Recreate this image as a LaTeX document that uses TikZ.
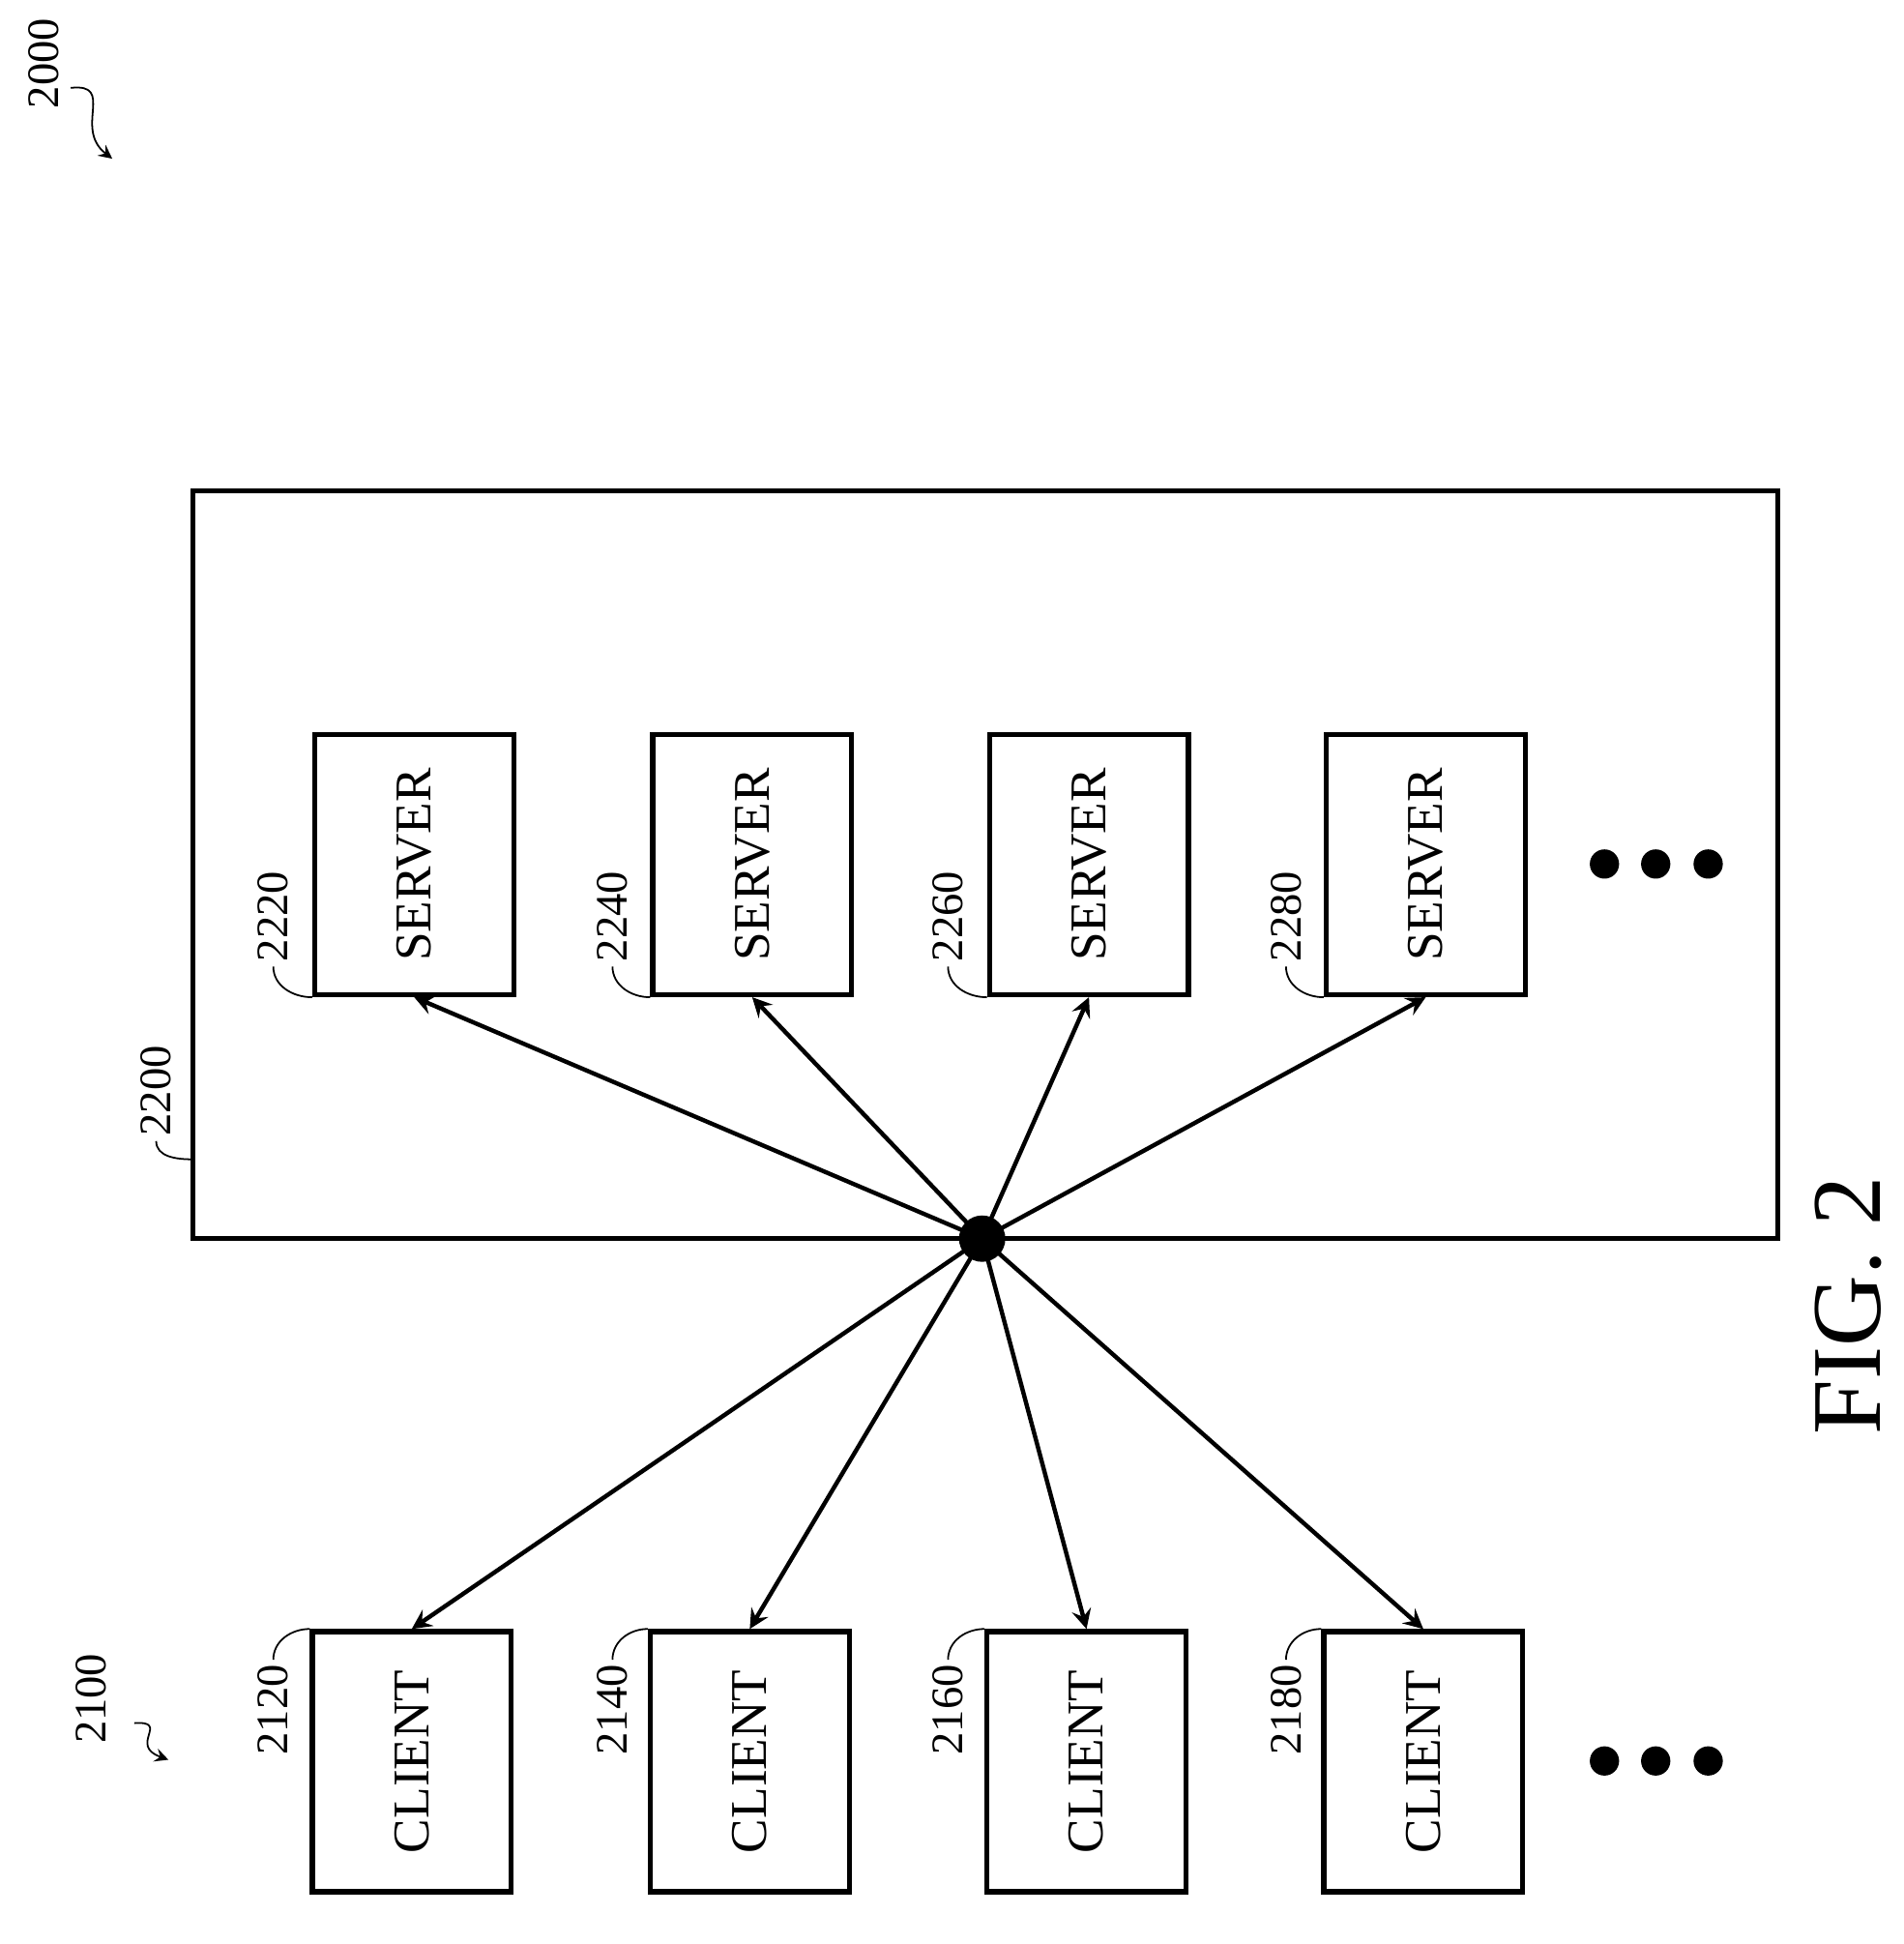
\documentclass[tikz,border=0pt]{standalone}
\usepackage{fontspec}
\setmainfont{Liberation Serif}
\usetikzlibrary{arrows}

\begin{document}
\begin{tikzpicture} [x=0.01cm, y=-0.01cm,
		% define styles
		boxstyle/.style={
			% The shape:
			rectangle,
			% The size:
			minimum width=1.63cm,
			minimum height=2.13cm,
			% The border:
			line width=1.2pt,
			draw=black,
			% Font
			font=\fontsize{12}{14}\selectfont
		},
		refstyle/.style={
			rotate=90,
			inner sep=1pt,
			font=\fontsize{10.5}{12}\selectfont
		},
		leader/.style={
			thin,
			black
		},
		arrow/.style={
			<->,
			% Thickness
			line width=1pt,
			>=stealth,
			black
		}]
		% end of style definition
		\useasboundingbox (0,0) rectangle (1560,1593);

		% outer frame
		\draw [line width=1.2pt] (158,402) rectangle (1457,1015);
		\coordinate (frameCorner) at (158,950);

		% draw nodes
		\node (iServerA) [boxstyle] at (339.5,708.5) {\rotatebox{90}{SERVER}};
		\node (iServerB) [boxstyle] at (616.5,708.5) {\rotatebox{90}{SERVER}};
		\node (iServerC) [boxstyle] at (892.5,708.5) {\rotatebox{90}{SERVER}};
		\node (iServerD) [boxstyle] at (1168.5,708.5) {\rotatebox{90}{SERVER}};

		\node (iClientA) [boxstyle] at (337.5,1443.5) {\rotatebox{90}{CLIENT}};
		\node (iClientB) [boxstyle] at (614.5,1443.5) {\rotatebox{90}{CLIENT}};
		\node (iClientC) [boxstyle] at (890.5,1443.5) {\rotatebox{90}{CLIENT}};
		\node (iClientD) [boxstyle] at (1166.5,1443.5) {\rotatebox{90}{CLIENT}};

		\node (iHub) [circle, fill=black, inner sep=0pt, minimum size=0.38cm] at (805,1015) {};

		% ellipses
		\foreach \x in {1315,1357,1400} {
			\fill (\x,708) circle (12);
			\fill (\x,1443) circle (12);
		}

		% reference numerals
		\node (iRefServerA) [refstyle, anchor=west] at (224,792) {2220};
		\node (iRefServerB) [refstyle, anchor=west] at (502,792) {2240};
		\node (iRefServerC) [refstyle, anchor=west] at (777,792) {2260};
		\node (iRefServerD) [refstyle, anchor=west] at (1054,792) {2280};
		\node (iRefClientA) [refstyle, anchor=east] at (224,1360) {2120};
		\node (iRefClientB) [refstyle, anchor=east] at (502,1360) {2140};
		\node (iRefClientC) [refstyle, anchor=east] at (777,1360) {2160};
		\node (iRefClientD) [refstyle, anchor=east] at (1054,1360) {2180};
		\node (iRefFrame) [refstyle, anchor=west] at (128,935) {2200};
		\node (iRefSystem) [refstyle] at (36,52) {2000};
		\node (iRefClients) [refstyle] at (75,1392) {2100};
		\node (iFig) [rotate=90, font=\fontsize{23}{26}\selectfont] at (1515,1070) {FIG. 2};

		% leaders
		\draw [leader] (iRefServerA.west) to[out=-90,in=180] (iServerA.south west);
		\draw [leader] (iRefServerB.west) to[out=-90,in=180] (iServerB.south west);
		\draw [leader] (iRefServerC.west) to[out=-90,in=180] (iServerC.south west);
		\draw [leader] (iRefServerD.west) to[out=-90,in=180] (iServerD.south west);
		\draw [leader] (iRefClientA.east) to[out=90,in=180] (iClientA.north west);
		\draw [leader] (iRefClientB.east) to[out=90,in=180] (iClientB.north west);
		\draw [leader] (iRefClientC.east) to[out=90,in=180] (iClientC.north west);
		\draw [leader] (iRefClientD.east) to[out=90,in=180] (iClientD.north west);
		\draw [leader] (iRefFrame.west) to[out=-90,in=180] (frameCorner);
		\coordinate (systemTail) at (58,72);
		\coordinate (systemHead) at (92,130);
		\coordinate (clientsTail) at (110,1412);
		\coordinate (clientsHead) at (138,1442);
		\draw [leader, -stealth] (systemTail) .. controls (95,68) and (60,105) .. (systemHead);
		\draw [leader, -stealth] (clientsTail) .. controls (140,1410) and (105,1430) .. (clientsHead);

		% connect nodes
		\draw [arrow] (iHub.center) -- (iServerA.south);
		\draw [arrow] (iHub.center) -- (iServerB.south);
		\draw [arrow] (iHub.center) -- (iServerC.south);
		\draw [arrow] (iHub.center) -- (iServerD.south);
		\draw [arrow] (iHub.center) -- (iClientA.north);
		\draw [arrow] (iHub.center) -- (iClientB.north);
		\draw [arrow] (iHub.center) -- (iClientC.north);
		\draw [arrow] (iHub.center) -- (iClientD.north);
	\end{tikzpicture}
\end{document}
